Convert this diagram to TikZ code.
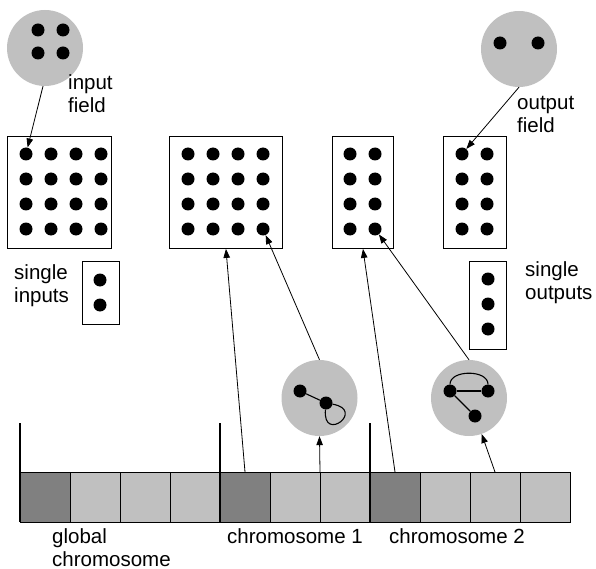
\documentclass[tikz,border=0pt]{standalone}
\usepackage{fontspec}
\setmainfont{Liberation Sans}
\usetikzlibrary{arrows.meta,positioning}
\definecolor{Shade}{HTML}{C0C0C0}
\definecolor{Dark}{HTML}{808080}

\begin{document}
\begin{tikzpicture}[
      x=1pt, y=-1pt,
      >={Triangle[length=9pt,width=6.5pt]},
      field/.style={draw, line width=0.9pt, inner sep=0pt, anchor=north west},
      dot/.style={circle, fill=black, inner sep=0pt, minimum size=13pt},
      bubble/.style={circle, fill=Shade, inner sep=0pt, minimum size=76pt},
      cell/.style={draw, line width=0.9pt, fill=Shade, minimum size=50pt,
                   inner sep=0pt, outer sep=0pt},
      lbl/.style={anchor=north west, align=left, inner sep=0pt,
                  font=\fontsize{20.5}{23}\selectfont},
      link/.style={->, line width=0.8pt},
      edge/.style={line width=1.1pt},
      sep/.style={line width=2.5pt}
    ]
      \useasboundingbox (0,0) rectangle (596,569);
      % fields
      \node[field, minimum width=104pt, minimum height=112pt] (inbox) at (7,136) {};
      \node[field, minimum width=113pt, minimum height=112pt] (hida) at (169,136) {};
      \node[field, minimum width=61pt, minimum height=112pt] (hidb) at (332,136) {};
      \node[field, minimum width=63pt, minimum height=112pt] (outbox) at (443,136) {};
      \node[field, minimum width=37pt, minimum height=63pt] (sinbox) at (82,261) {};
      \node[field, minimum width=37pt, minimum height=88pt] (soutbox) at (469,261) {};
      \foreach \r in {1,...,4} {
        \foreach \c in {1,...,4} {
          \node[dot] (i\r\c) at ({1+25*\c},{129+25*\r}) {};
          \node[dot] (h\r\c) at ({163+25*\c},{129+25*\r}) {};
        }
        \foreach \c in {1,2} {
          \node[dot] (k\r\c) at ({325+25*\c},{129+25*\r}) {};
          \node[dot] (o\r\c) at ({437+25*\c},{129+25*\r}) {};
        }
      }
      \foreach \r in {1,2} \node[dot] (s\r) at (100,{255+25*\r}) {};
      \foreach \r in {1,2,3} \node[dot] (t\r) at (488,{254+25*\r}) {};

      % bubbles
      \node[bubble] (ic) at (45,48) {};
      \foreach \x/\y [count=\n] in {38/30,63/30,38/53,63/53}
        \node[dot] (ic\n) at (\x,\y) {};
      \node[bubble] (oc) at (519,49) {};
      \node[dot] (oc1) at (500,43) {};
      \node[dot] (oc2) at (538,43) {};

      \node[bubble] (ga) at (319.5,398) {};
      \node[dot] (ga1) at (300,391) {};
      \node[dot] (ga2) at (326,403) {};
      \draw[edge] (ga1) -- (ga2);
      \draw[edge] (ga2) to[loop, out=-95, in=-10, min distance=34pt] (ga2);

      \node[bubble] (gb) at (469,398) {};
      \node[dot] (gb1) at (450,391) {};
      \node[dot] (gb2) at (488,391) {};
      \node[dot] (gb3) at (475,416) {};
      \draw[edge] (gb1) -- (gb2);
      \draw[edge] (gb1) -- (gb3);
      \draw[edge] (gb1) to[out=90, in=90] (gb2);

      % chromosome
      \node[cell, fill=Dark, anchor=north west] (c0) at (20,472) {};
      \foreach \i/\f [count=\j from 0] in {1/Shade,2/Shade,3/Shade,4/Dark,5/Shade,
                                             6/Shade,7/Dark,8/Shade,9/Shade,10/Shade}
        \node[cell, fill=\f, right=0pt of c\j] (c\i) {};
      \draw[sep] (c0.south west) -- ++(0,-99);
      \draw[sep] (c4.south west) -- ++(0,-99);
      \draw[sep] (c7.south west) -- ++(0,-99);

      % links
      \draw[link] (ic.-93) -- (i11);
      \draw[link] (oc.south) -- (o11);
      \draw[link] (c4.north) -- (hida.south);
      \draw[link] (ga.north) -- (h44);
      \draw[link] (c5.north east) -- (ga.south);
      \draw[link] (c7.north) -- (hidb.south);
      \draw[link] (gb.north) -- (k42);
      \draw[link] (c9.north) -- (gb);

      % labels
      \node[lbl] (lin) at (68,74) {input\\field};
      \node[lbl] (lout) at (517,96) {output\\field};
      \node[lbl] (lsin) at (14,264) {single\\inputs};
      \node[lbl] (lsout) at (525,261) {single\\outputs};
      \node[lbl] (lg) at (52,528) {global\\chromosome};
      \node[lbl] (lc1) at (227,528) {chromosome 1};
      \node[lbl] (lc2) at (389,528) {chromosome 2};
    \end{tikzpicture}
\end{document}
